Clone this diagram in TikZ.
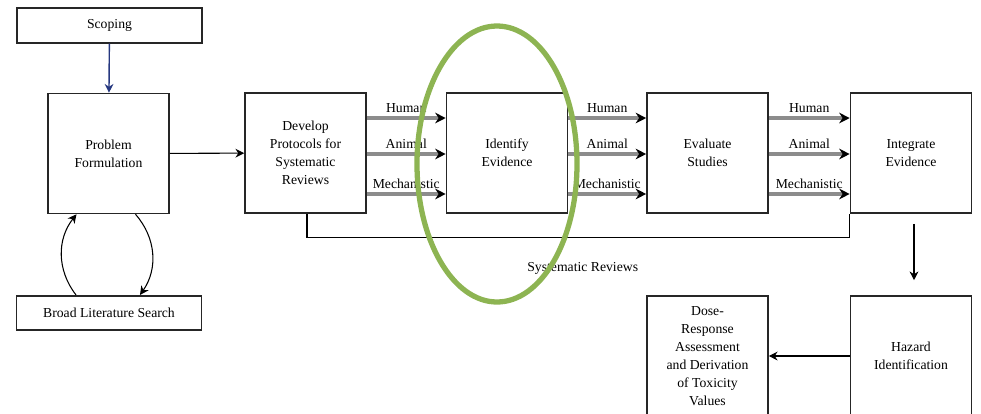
\documentclass[tikz,border=0pt]{standalone}
\usepackage{fontspec}
\setmainfont{Liberation Serif}
\usepackage{tikz}
\usetikzlibrary{arrows.meta,calc}
\definecolor{ringgreen}{RGB}{141,180,82}
\definecolor{scopeblue}{RGB}{38,56,128}

\begin{document}
\begin{tikzpicture}[x=0.02cm, y=0.02cm,
  every node/.style={font=\rmfamily\fontsize{7.8}{10.2}\selectfont, align=center},
  box/.style={draw=black!85, line width=0.9pt, minimum width=2.42cm, minimum height=2.4cm, inner sep=1pt},
  bar/.style={draw=black!85, line width=0.9pt, minimum width=3.7cm, minimum height=0.69cm},
  branch/.style={draw=black!45, line width=2pt, -{Stealth[length=6pt,width=6pt,black]}},
  link/.style={black, line width=0.6pt, -{Stealth[length=5pt,width=5pt]}}]
\useasboundingbox (0,0) rectangle (981,-413);
% boxes
\node[bar] (scoping) at (109.5,-25.5) {Scoping};
\node[box] (problem) at (108.5,-153.5) {Problem\\Formulation};
\node[bar] (broad) at (109,-313) {Broad Literature Search};
\node[box] (develop) at (305.5,-153) {Develop\\Protocols for\\Systematic\\Reviews};
\node[box] (identify) at (507,-153) {Identify\\Evidence};
\node[box] (evaluate) at (707.5,-153) {Evaluate\\Studies};
\node[box] (integrate) at (911,-153) {Integrate\\Evidence};
\node[box] (hazard) at (911,-356) {Hazard\\Identification};
\node[box] (dose) at (707.5,-356) {Dose-\\Response\\Assessment\\and Derivation\\of Toxicity\\Values};
% connectors
\draw[link, scopeblue, line width=0.8pt] (scoping) -- (problem);
\draw[link] (problem) -- (develop);
\draw[link] ([xshift=-0.66cm]broad.north) to[bend left=38] ([xshift=-0.64cm]problem.south);
\draw[link] ([xshift=0.54cm]problem.south) to[bend left=38] ([xshift=0.62cm]broad.north);
\foreach \a/\b in {develop/identify, identify/evaluate, evaluate/integrate}
  \foreach \dy/\lab in {0.7/Human, -0.02/Animal, -0.82/Mechanistic}
    \draw[branch] ([yshift=\dy cm]\a.east) -- node[above=-1.5pt, black]{\lab} ([yshift=\dy cm]\b.west);
\draw[black, line width=0.6pt] ([xshift=0.03cm]develop.south) -- ++(0,-24) coordinate (sr)
  -| (integrate.south west) node[pos=0.254, below=0.36cm]{Systematic Reviews};
\draw[link] ([xshift=0.06cm,yshift=-0.2cm]integrate.south) -- ([xshift=0.06cm,yshift=0.3cm]hazard.north);
\draw[link] (hazard) -- (dose);
% highlight
\draw[ringgreen, line width=3pt] (497,-164) ellipse (80 and 138);
\end{tikzpicture}
\end{document}
